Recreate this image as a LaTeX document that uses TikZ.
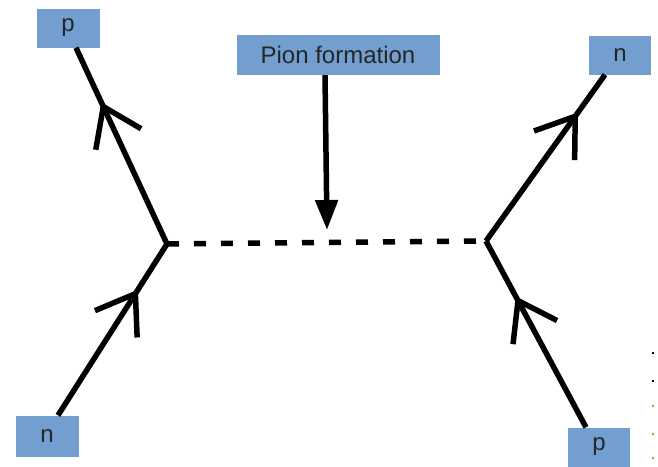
\documentclass[tikz,border=0pt]{standalone}
\usepackage{fontspec}
\setmainfont{Liberation Sans}
\usetikzlibrary{decorations.markings,arrows.meta}
\definecolor{boxblue}{RGB}{114,159,207}
\definecolor{dotorange}{RGB}{224,130,40}
\begin{document}
\begin{tikzpicture}[x=1pt,y=-1pt,
  lbl/.style={fill=boxblue, inner sep=0pt, minimum height=39pt, font=\fontsize{24}{28}\selectfont, text=black!85},
  fermion/.style={line width=5.5pt, postaction={decorate},
    decoration={markings, mark=at position #1 with {\draw[line width=5.5pt] (-36pt,25pt) -- (0pt,0pt) -- (-36pt,-25pt);}}},
  pionline/.style={line width=5.5pt, dash pattern=on 12pt off 15pt},
  pointer/.style={line width=5.5pt, -{Triangle[length=30pt,width=22pt]}},
  speck/.style={inner sep=0pt, minimum width=2pt, minimum height=1.5pt}
]
\useasboundingbox (0,0) rectangle (658,466);

\node[lbl, minimum width=63pt] (p1) at (68,28) {p};
\node[lbl, minimum width=203pt, minimum height=40pt] (pion) at (338,55) {Pion formation};
\node[lbl, minimum width=62pt] (n2) at (620,55) {n};
\node[lbl, minimum width=63pt, minimum height=41pt] (n1) at (47,436) {n};
\node[lbl, minimum width=62pt] (p2) at (599,447) {p};

\coordinate (vL) at (167,244);
\coordinate (vR) at (486,241);
\coordinate (tip) at (327,230);

\draw[pionline] (vL) -- (vR);
\draw[pointer] ([xshift=-13pt]pion.south) -- (tip);

\draw[fermion=0.7] (vL) -- ([xshift=8pt]p1.south);
\draw[fermion=0.71] ([xshift=11pt]n1.north) -- (vL);
\draw[fermion=0.75] (vR) -- ([xshift=-15pt]n2.south);
\draw[fermion=0.68] ([xshift=-13pt]p2.north) -- (vR);

\node[speck, fill=black] (d1) at (653,353) {};
\node[speck, fill=black] (d2) at (653,381) {};
\node[speck, fill=dotorange] (d3) at (653,406) {};
\node[speck, fill=dotorange] (d4) at (653,434) {};
\node[speck, fill=dotorange] (d5) at (653,458) {};
\end{tikzpicture}
\end{document}
